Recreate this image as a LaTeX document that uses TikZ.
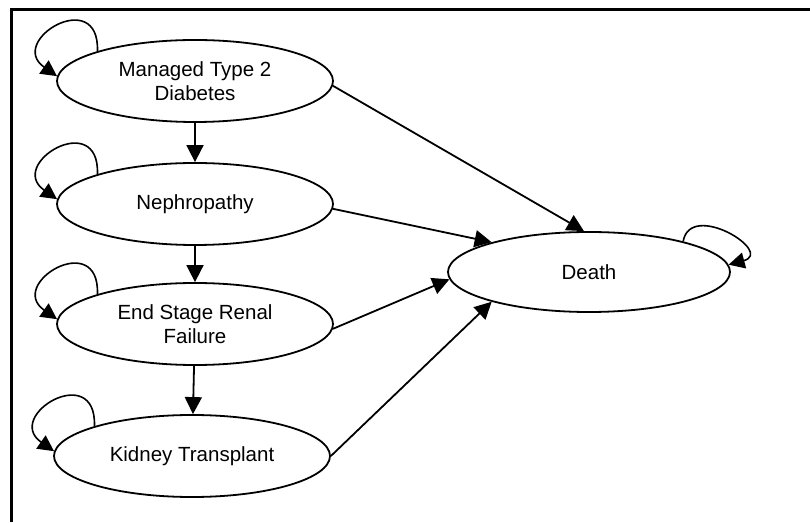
\documentclass[tikz,border=0pt]{standalone}
\usepackage{fontspec}
\setmainfont{Liberation Sans}
\usetikzlibrary{shapes.geometric,arrows.meta}
\begin{document}
\begin{tikzpicture}[x=1pt,y=1pt,
  state/.style={ellipse,draw,line width=1.8pt,minimum width=276pt,minimum height=82pt,inner sep=0pt,align=center,font=\fontsize{20.5}{24}\selectfont},
  arr/.style={line width=1.8pt,-{Triangle[length=17pt,width=17pt]}},
  selfl/.style={line width=1.6pt,-{Triangle[length=16pt,width=16pt]}}]
\useasboundingbox (0,0) rectangle (810,522);
\draw[line width=3pt] (11,0) -- (11,512) -- (810,512);
\node[state] (m) at (195,441) {Managed Type 2\\Diabetes};
\node[state] (n) at (195,318) {Nephropathy};
\node[state] (e) at (195,198) {End Stage Renal\\Failure};
\node[state] (k) at (192,66) {Kidney Transplant};
\node[state,minimum width=282pt,minimum height=80pt] (d) at (589,250) {Death};
\draw[arr] (m) -- (n);
\draw[arr] (n) -- (e);
\draw[arr] (e) -- (k);
\draw[arr] (m.-2) -- (d.97);
\draw[arr] (n.-2) -- (d.163);
\draw[arr] (e.-2) -- (d.183);
\draw[arr] (k.east) -- (d.197);
\foreach \s in {m,n,e,k}{
  \draw[selfl] (\s.163) .. controls +(88:66) and +(145:62) .. (\s.178);
}
\draw[selfl] (d.18) .. controls +(80:42) and +(15:48) .. (d.3);
\end{tikzpicture}
\end{document}
